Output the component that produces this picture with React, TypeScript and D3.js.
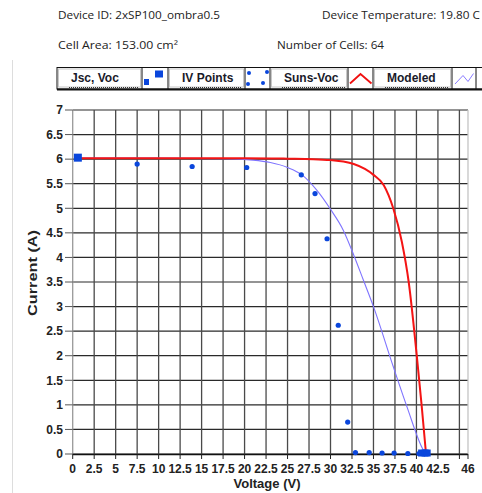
import * as d3 from 'd3'

// header info
const headerLines = [
  { text: 'Device ID: 2xSP100_ombra0.5', x: 58, y: 19, w: 162 },
  { text: 'Device Temperature: 19.80 C', x: 322, y: 19, w: 158 },
  { text: 'Cell Area: 153.00 cm²', x: 58, y: 49, w: 120 },
  { text: 'Number of Cells: 64', x: 277, y: 49, w: 107 },
]

// legend
const legendLabels = ['Jsc, Voc', 'IV Points', 'Suns-Voc', 'Modeled']
const legendTextCells = [[57, 85], [168, 77], [270, 78], [373, 79]]
const legendSymbolCells = [[142, 26], [245, 25], [348, 25], [452, 24]]

// ticks
const xTicks = d3.range(0, 45.01, 2.5).concat([46])
const xTickLabels = xTicks.map(v => (v === 45 ? '' : String(v)))
const yTicks = d3.range(0, 7.01, 0.5)

// Jsc / Voc markers
const jvV = [0.6, 40.6, 41.0, 41.25]
const jvI = [6.03, 0.02, 0.02, 0.02]

// measured IV points
const ivV = [7.5, 13.9, 20.25, 26.6, 28.2, 29.6, 30.9, 32.0, 32.9, 34.5, 36.0, 37.4, 39.0, 40.3]
const ivI = [5.9, 5.85, 5.83, 5.68, 5.3, 4.38, 2.62, 0.65, 0.03, 0.03, 0.02, 0.02, 0.01, 0.01]

// Suns-Voc curve (red)
const sunsV = [0.6, 5, 10, 15, 20, 25, 28, 30, 31.5, 32.7, 34, 35, 36.2, 37.3, 38.3, 39.1, 40.05, 40.6, 41.1]
const sunsI = [6.02, 6.02, 6.02, 6.02, 6.02, 6.01, 6.0, 5.98, 5.95, 5.9, 5.8, 5.68, 5.47, 5.0, 4.32, 3.5, 1.98, 1.0, 0.03]

// modeled curve (violet)
const modV = [0.6, 10, 17, 19.5, 21, 23, 25, 26.6, 28.4, 30, 31.5, 32.7, 33.8, 35, 37.3, 38.9, 40.8, 41.1]
const modI = [6.02, 6.02, 6.01, 6.0, 5.98, 5.93, 5.83, 5.69, 5.37, 4.98, 4.55, 4.05, 3.55, 3.0, 1.78, 0.96, 0.08, 0.0]

const BLUE = '#0a46dc'
const bold = { fontFamily: 'Liberation Sans, Arial, sans-serif', fontWeight: 700 }

export default function App() {
  const x = d3.scaleLinear().domain([0, 46]).range([72.7, 468])
  const y = d3.scaleLinear().domain([0, 7]).range([454, 110])

  const sunsPath = d3.line<number>().curve(d3.curveMonotoneX)
    .x((_, i) => x(sunsV[i])).y((_, i) => y(sunsI[i]))(sunsV)
  const modPath = d3.line<number>().curve(d3.curveMonotoneX)
    .x((_, i) => x(modV[i])).y((_, i) => y(modI[i]))(modV)

  return (
    <svg width={482} height={493} style={{ position: 'absolute', left: 0, top: 0, background: '#fff' }}>
      {headerLines.map((h, i) => (
        <text key={i} x={h.x} y={h.y} fontSize={11} fill="#222" fontFamily="Open Sans, sans-serif"
          textLength={h.w} lengthAdjust="spacingAndGlyphs">{h.text}</text>
      ))}

      {/* faint outer frame */}
      <line x1={12.5} x2={12.5} y1={60} y2={493} stroke="#ddd" />

      {/* legend */}
      <rect x={57} y={67.5} width={430} height={21.5} fill="#fff" stroke="#111" strokeWidth={1} />
      <line x1={57} x2={482} y1={89.5} y2={89.5} stroke="#111" strokeWidth={2} />
      {legendTextCells.map(([cx, cw], i) => (
        <g key={i}>
          <rect x={cx + 1.5} y={69} width={cw - 3} height={18} fill="#fff" stroke="#c8c8c8" />
          <line x1={cx + 12} x2={cx + cw - 3} y1={87.5} y2={87.5} stroke="#333" strokeDasharray="1,1" />
          <text x={cx + 14} y={81.7} fontSize={12} fill="#1a1a2a" style={bold}>{legendLabels[i]}</text>
          <line x1={cx + cw} x2={cx + cw} y1={67.5} y2={89} stroke="#111" />
        </g>
      ))}
      {legendSymbolCells.map(([cx, cw], i) => (
        <line key={i} x1={cx + cw} x2={cx + cw} y1={67.5} y2={89} stroke="#111" />
      ))}
      <rect x={144} y={79} width={5} height={6} fill={BLUE} />
      <rect x={155} y={70.5} width={8} height={7} fill={BLUE} />
      {[[249, 73], [267, 72], [248, 84], [263, 83]].map(([px, py], i) => (
        <circle key={i} cx={px} cy={py} r={2} fill={BLUE} />
      ))}
      <polyline points="350,83.5 360.5,74 371.5,83.5" fill="none" stroke="#f01010" strokeWidth={1.8} />
      <polyline points="455,84 463,75.5 468,81.5 473.5,73.5" fill="none" stroke="#8a7cff" strokeWidth={1} />

      {/* grid */}
      {yTicks.map(t => (
        <line key={'h' + t} x1={x(0)} x2={x(46)} y1={y(t)} y2={y(t)} stroke="#2a2a2a" strokeWidth={1.2} />
      ))}
      {xTicks.map(t => (
        <line key={'v' + t} x1={x(t)} x2={x(t)} y1={y(7)} y2={y(0)}
          stroke={t === 0 ? '#999' : t === 46 ? '#c4c4c4' : '#4a4a4a'} strokeWidth={1.3} />
      ))}

      {/* axes */}
      <line x1={x(0)} x2={x(46)} y1={y(0) + 0.5} y2={y(0) + 0.5} stroke="#111" strokeWidth={1.6} />
      {xTicks.map((t, i) => (
        <g key={'xt' + t}>
          <line x1={x(t)} x2={x(t)} y1={y(0)} y2={y(0) + 5} stroke="#222" />
          <text x={x(t)} y={472.5} textAnchor="middle" fontSize={12} fill="#222" style={bold}>{xTickLabels[i]}</text>
        </g>
      ))}
      {yTicks.map(t => (
        <g key={'yt' + t}>
          <line x1={65} x2={x(0)} y1={y(t)} y2={y(t)} stroke="#555" />
          <text x={63} y={y(t)} dy="0.36em" textAnchor="end" fontSize={12} fill="#222" style={bold}>{String(t)}</text>
        </g>
      ))}
      <text x={267} y={488} textAnchor="middle" fontSize={13} fill="#222" style={bold}>Voltage (V)</text>
      <text transform="translate(37,273) rotate(-90)" textAnchor="middle" fontSize={12} fill="#222" style={bold}
        textLength={86} lengthAdjust="spacingAndGlyphs">Current (A)</text>

      {/* curves */}
      <path d={modPath ?? ''} fill="none" stroke="#7f74ff" strokeWidth={1.1} />
      <path d={sunsPath ?? ''} fill="none" stroke="#f41414" strokeWidth={2} />

      {/* IV points */}
      {ivV.map((v, i) => (
        <circle key={'iv' + i} cx={x(v)} cy={y(ivI[i])} r={2.6} fill={BLUE} />
      ))}
      {/* Jsc, Voc */}
      {jvV.map((v, i) => (
        <rect key={'jv' + i} x={x(v) - (i === 0 ? 4 : 3.5)} y={y(jvI[i]) - (i === 0 ? 4 : 3.5)}
          width={i === 0 ? 8 : 7} height={i === 0 ? 8 : 7} fill={BLUE} />
      ))}
    </svg>
  )
}
